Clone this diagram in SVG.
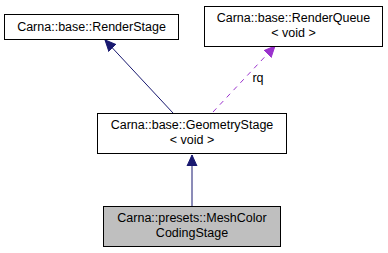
<svg xmlns="http://www.w3.org/2000/svg" width="388" height="253" viewBox="0 0 388 253">
  <style>
    .box { fill: #ffffff; stroke: #000000; stroke-width: 1; }
    .cur { fill: #bfbfbf; stroke: #000000; stroke-width: 1; }
    text { font-family: "Liberation Sans", Arial, sans-serif; font-size: 12.5px; fill: #000000; text-anchor: middle; }
    .inh { stroke: #191970; stroke-width: 1; fill: none; }
    .use { stroke: #9a32cd; stroke-width: 1; fill: none; stroke-dasharray: 5,5; }
  </style>
  <defs>
    <marker id="arrowInh" markerWidth="12" markerHeight="12" refX="11" refY="6" orient="auto" markerUnits="userSpaceOnUse">
      <path d="M0,1 L11,6 L0,11 Z" fill="#191970" stroke="#191970"/>
    </marker>
    <marker id="arrowUse" markerWidth="12" markerHeight="12" refX="11" refY="6" orient="auto" markerUnits="userSpaceOnUse">
      <path d="M0,1 L11,6 L0,11 Z" fill="#9a32cd" stroke="#9a32cd"/>
    </marker>
  </defs>

  <g id="connectors">
    <line class="inh" x1="173" y1="113" x2="105" y2="40" marker-end="url(#arrowInh)"/>
    <line class="inh" x1="192" y1="206" x2="192" y2="155" marker-end="url(#arrowInh)"/>
    <line class="use" x1="213" y1="112" x2="275" y2="46" marker-end="url(#arrowUse)"/>
    <text x="258" y="82">rq</text>
  </g>

  <g id="node-render-stage">
    <rect class="box" x="4.5" y="14.5" width="174" height="25"/>
    <text x="91.5" y="31">Carna::base::RenderStage</text>
  </g>

  <g id="node-render-queue">
    <rect class="box" x="204.5" y="6.5" width="178" height="40"/>
    <text x="293.5" y="22">Carna::base::RenderQueue</text>
    <text x="293.5" y="37">&lt; void &gt;</text>
  </g>

  <g id="node-geometry-stage">
    <rect class="box" x="97.5" y="113.5" width="189" height="40"/>
    <text x="192" y="129">Carna::base::GeometryStage</text>
    <text x="192" y="144">&lt; void &gt;</text>
  </g>

  <g id="node-mesh-color-coding-stage">
    <rect class="cur" x="103.5" y="206.5" width="177" height="40"/>
    <text x="192" y="222">Carna::presets::MeshColor</text>
    <text x="192" y="237">CodingStage</text>
  </g>
</svg>
